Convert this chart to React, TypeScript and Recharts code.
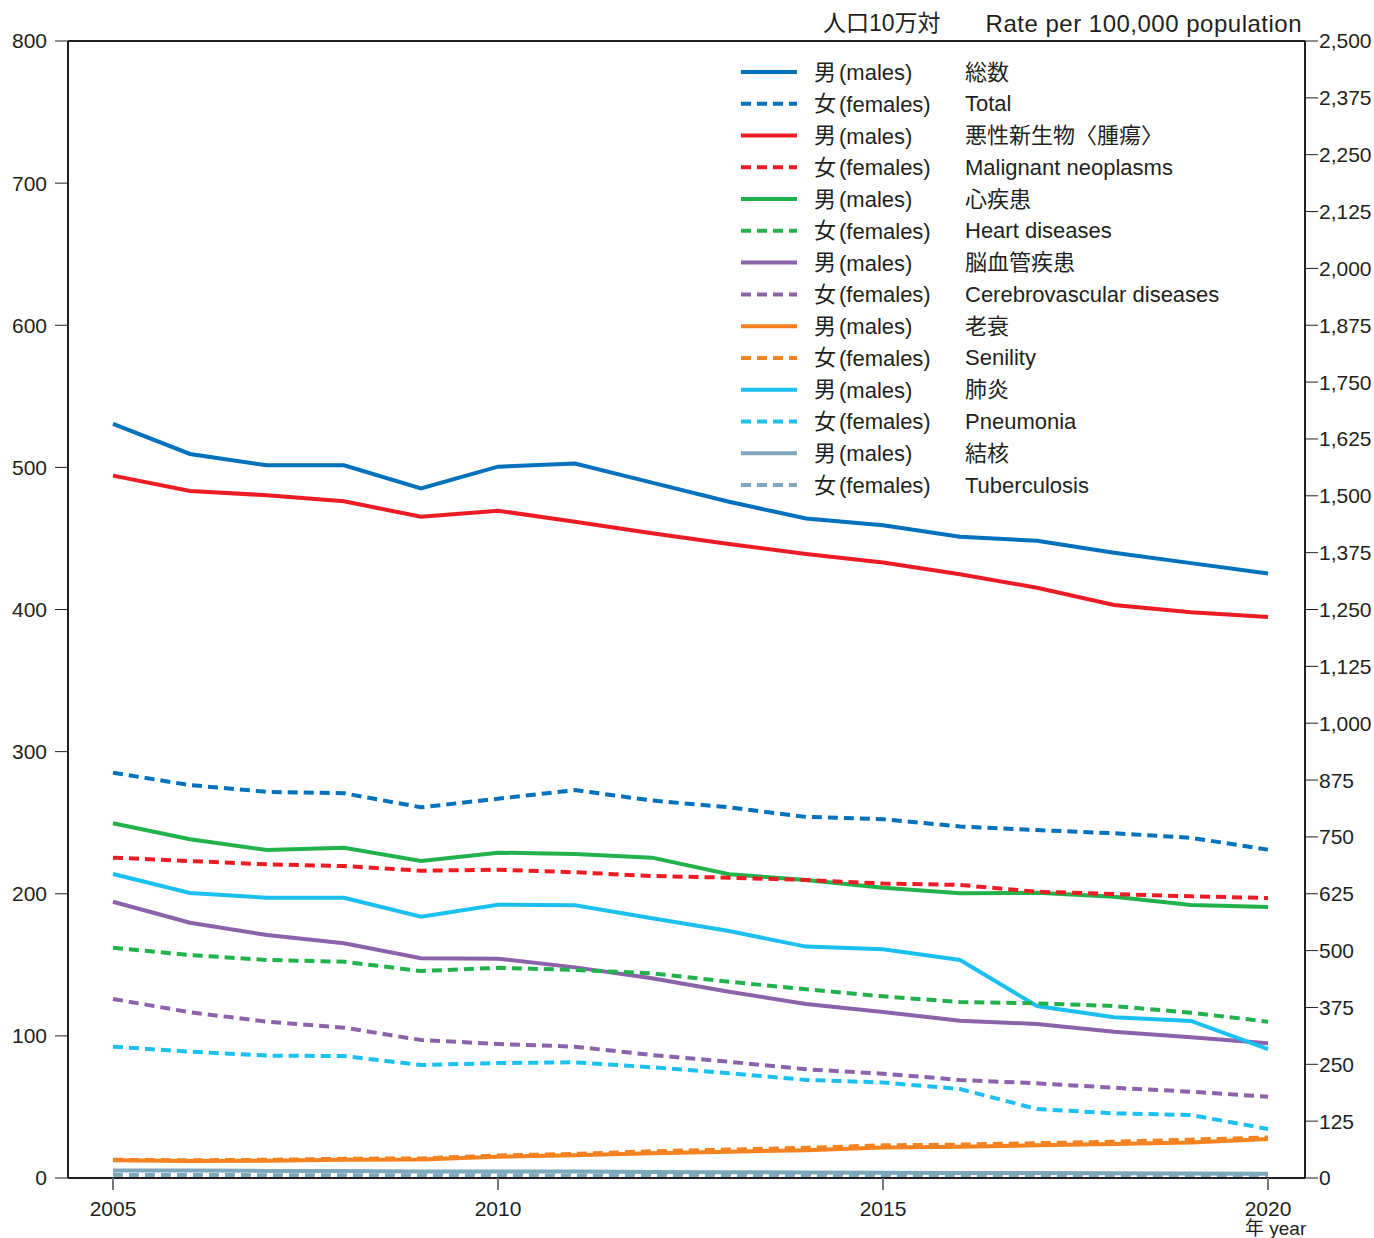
import { LineChart, Line, XAxis, YAxis, Legend, ReferenceLine } from "recharts";

const years = [2005, 2006, 2007, 2008, 2009, 2010, 2011, 2012, 2013, 2014, 2015, 2016, 2017, 2018, 2019, 2020];

// 総数 (right axis)
const totalMale = [1658, 1592, 1567, 1567, 1516, 1564, 1571, 1529, 1487, 1450, 1435, 1410, 1401, 1375, 1352, 1329];
const totalFemale = [891, 864, 849, 846, 815, 834, 853, 830, 815, 794, 789, 773, 765, 758, 748, 722];
// left axis
const cancerMale = [494.2, 483.4, 480.4, 476.1, 465.3, 469.5, 461.8, 453.6, 446.1, 439.1, 433.1, 424.8, 415.3, 403.2, 398.0, 394.7];
const cancerFemale = [225.4, 223.0, 220.7, 219.5, 216.2, 216.9, 215.1, 212.5, 211.3, 209.7, 207.2, 206.2, 201.4, 199.8, 198.2, 197.0];
const heartMale = [249.6, 238.3, 230.8, 232.4, 223.0, 228.9, 228.0, 225.4, 213.7, 209.7, 204.2, 200.3, 200.7, 197.9, 192.1, 190.7];
const heartFemale = [162.0, 156.9, 153.4, 152.2, 145.6, 147.9, 146.4, 144.0, 138.1, 132.8, 127.8, 123.8, 122.9, 121.0, 116.3, 110.0];
const cerebMale = [194.4, 179.6, 171.0, 165.1, 154.6, 154.3, 148.2, 140.5, 131.1, 122.4, 116.8, 110.7, 108.4, 102.9, 99.0, 94.8];
const cerebFemale = [126.0, 116.6, 110.0, 105.8, 97.1, 94.3, 92.4, 86.5, 81.8, 76.5, 73.4, 69.0, 66.6, 63.5, 60.7, 57.2];
const senilityMale = [12.5, 12.0, 12.2, 12.8, 13.0, 15.0, 16.0, 17.5, 18.5, 19.5, 21.5, 22.0, 23.0, 24.0, 25.0, 27.5];
const senilityFemale = [12.8, 12.5, 12.8, 13.5, 13.8, 15.8, 17.0, 18.8, 20.0, 21.2, 23.0, 23.5, 24.5, 25.5, 27.0, 28.5];
const pneumoniaMale = [213.9, 200.5, 197.2, 197.2, 183.9, 192.3, 191.9, 182.7, 173.8, 162.8, 160.9, 153.4, 121.0, 113.1, 110.5, 90.6];
const pneumoniaFemale = [92.4, 88.9, 86.1, 85.8, 79.5, 80.9, 81.4, 77.9, 73.7, 69.0, 67.2, 62.6, 48.5, 45.5, 44.3, 34.5];
const tbMale = [5.3, 5.2, 5.0, 4.9, 4.6, 4.6, 4.5, 4.3, 4.1, 3.9, 3.7, 3.6, 3.5, 3.4, 3.2, 3.0];
const tbFemale = [2.2, 2.1, 2.0, 2.0, 1.9, 1.9, 1.8, 1.8, 1.7, 1.7, 1.6, 1.6, 1.5, 1.5, 1.4, 1.3];

const leftTicks = [0, 100, 200, 300, 400, 500, 600, 700, 800];
const rightTicks = [0, 125, 250, 375, 500, 625, 750, 875, 1000, 1125, 1250, 1375, 1500, 1625, 1750, 1875, 2000, 2125, 2250, 2375, 2500];
const xTicks = [2005, 2010, 2015, 2020];

const causes = [
  { key: "total", jp: "総数", en: "Total", color: "#0071BC", male: totalMale, female: totalFemale, axis: "right" },
  { key: "cancer", jp: "悪性新生物〈腫瘍〉", en: "Malignant neoplasms", color: "#ED1C24", male: cancerMale, female: cancerFemale, axis: "left" },
  { key: "heart", jp: "心疾患", en: "Heart diseases", color: "#22B24C", male: heartMale, female: heartFemale, axis: "left" },
  { key: "cereb", jp: "脳血管疾患", en: "Cerebrovascular diseases", color: "#8C62AA", male: cerebMale, female: cerebFemale, axis: "left" },
  { key: "senility", jp: "老衰", en: "Senility", color: "#F58220", male: senilityMale, female: senilityFemale, axis: "left" },
  { key: "pneumonia", jp: "肺炎", en: "Pneumonia", color: "#1BC0F0", male: pneumoniaMale, female: pneumoniaFemale, axis: "left" },
  { key: "tb", jp: "結核", en: "Tuberculosis", color: "#7FA7BC", male: tbMale, female: tbFemale, axis: "left" },
];

const data = years.map((y, i) => {
  const row: Record<string, number> = { year: y };
  causes.forEach((c) => {
    row[c.key + "M"] = c.male[i];
    row[c.key + "F"] = c.female[i];
  });
  return row;
});

const FONT = "'Liberation Sans', 'Noto Sans CJK JP', sans-serif";
const INK = "#231F20";
const DASH = "10 6";

function XTick(props: any) {
  const { x, y, payload } = props;
  return (
    <g>
      <text x={x} y={y + 16} textAnchor="middle" dominantBaseline="central" fontSize={21} fill={INK} fontFamily={FONT}>
        {payload.value}
      </text>
      {payload.value === 2020 && (
        <text x={x - 23} y={y + 36} textAnchor="start" dominantBaseline="central" fontSize={19} fill={INK} fontFamily={FONT}>
          年 year
        </text>
      )}
    </g>
  );
}

function LegendBox() {
  const rowH = 31.77;
  return (
    <svg width={1374} height={520} style={{ position: "absolute", left: 0, top: 0 }}>
      <text x={823} y={23} dominantBaseline="central" fontSize={23} fill={INK} fontFamily={FONT}>人口10万対</text>
      <text x={1302} y={23} textAnchor="end" dominantBaseline="central" fontSize={24} letterSpacing={0.5} fill={INK} fontFamily={FONT}>
        Rate per 100,000 population
      </text>
      {causes.map((c, i) => {
        const y1 = 72 + i * 2 * rowH;
        const y2 = y1 + rowH;
        return (
          <g key={c.key}>
            <line x1={741} x2={797} y1={y1} y2={y1} stroke={c.color} strokeWidth={4} />
            <line x1={741} x2={797} y1={y2} y2={y2} stroke={c.color} strokeWidth={4} strokeDasharray={DASH} />
            <text x={814} y={y1} dominantBaseline="central" fontSize={22} fill={INK} fontFamily={FONT}>
              男<tspan dx={3}>(males)</tspan>
            </text>
            <text x={814} y={y2} dominantBaseline="central" fontSize={22} fill={INK} fontFamily={FONT}>
              女<tspan dx={3}>(females)</tspan>
            </text>
            <text x={965} y={y1} dominantBaseline="central" fontSize={22} fill={INK} fontFamily={FONT}>{c.jp}</text>
            <text x={965} y={y2} dominantBaseline="central" fontSize={22} fill={INK} fontFamily={FONT}>{c.en}</text>
          </g>
        );
      })}
    </svg>
  );
}

export default function App() {
  return (
    <div style={{ position: "absolute", left: 0, top: 0, background: "#fff" }}>
      <LineChart width={1374} height={1238} data={data} margin={{ top: 41, right: 9, bottom: 10, left: 10 }}>
        <XAxis
          dataKey="year"
          type="number"
          domain={[2005, 2020]}
          ticks={xTicks}
          padding={{ left: 45, right: 37 }}
          height={50}
          tick={<XTick />}
          tickSize={12}
          tickMargin={2}
          axisLine={{ stroke: INK, strokeWidth: 2 }}
          tickLine={{ stroke: "#777", strokeWidth: 2 }}
        />
        <YAxis
          yAxisId="left"
          domain={[0, 800]}
          ticks={leftTicks}
          width={58}
          tickSize={13}
          tickMargin={8}
          tick={{ fontSize: 21, fill: INK, fontFamily: FONT }}
          axisLine={{ stroke: INK, strokeWidth: 2 }}
          tickLine={{ stroke: INK, strokeWidth: 1 }}
        />
        <YAxis
          yAxisId="right"
          orientation="right"
          domain={[0, 2500]}
          ticks={rightTicks}
          width={60}
          tickSize={13}
          tickMargin={1}
          tickFormatter={(v: number) => v.toLocaleString("en-US")}
          tick={{ fontSize: 21, fill: INK, fontFamily: FONT }}
          axisLine={{ stroke: INK, strokeWidth: 2 }}
          tickLine={{ stroke: INK, strokeWidth: 1 }}
        />
        <ReferenceLine yAxisId="left" y={800} stroke={INK} strokeWidth={2} />
        {causes.map((c) => (
          <Line
            key={c.key + "M"}
            yAxisId={c.axis}
            dataKey={c.key + "M"}
            type="linear"
            stroke={c.color}
            strokeWidth={4}
            dot={false}
            activeDot={false}
            isAnimationActive={false}
          />
        ))}
        {causes.map((c) => (
          <Line
            key={c.key + "F"}
            yAxisId={c.axis}
            dataKey={c.key + "F"}
            type="linear"
            stroke={c.color}
            strokeWidth={4}
            strokeDasharray={DASH}
            dot={false}
            activeDot={false}
            isAnimationActive={false}
          />
        ))}
        <Legend
          layout="vertical"
          align="center"
          verticalAlign="middle"
          wrapperStyle={{ left: 0, top: 0, width: 1374, height: 520 }}
          content={() => <LegendBox />}
        />
      </LineChart>
    </div>
  );
}
